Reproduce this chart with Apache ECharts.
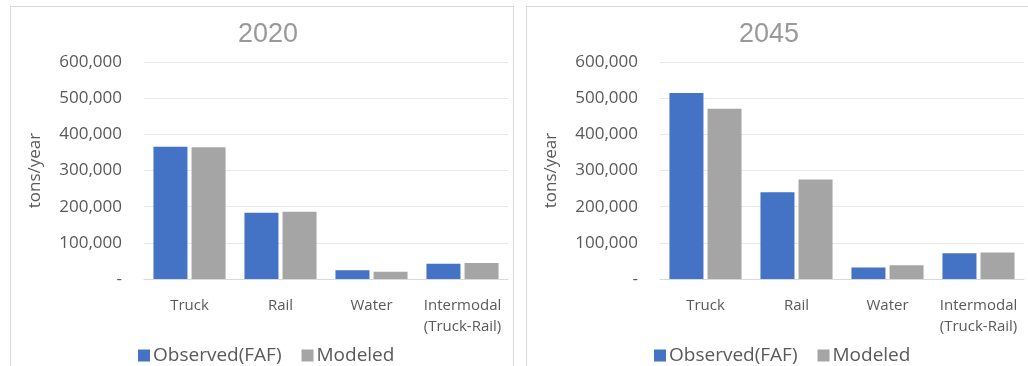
<!DOCTYPE html>
<html>
<head>
<meta charset="utf-8">
<script src="https://cdn.jsdelivr.net/npm/echarts@6/dist/echarts.min.js"></script>
<style>
body{margin:0;background:#fff;width:1028px;height:366px;overflow:hidden;position:relative;}
.panel{position:absolute;top:6px;height:370px;border:1px solid #d9d9d9;box-sizing:border-box;}
#left{left:10px;width:504px;}
#right{left:526px;width:512px;}
</style>
</head>
<body>
<div class="panel" id="left"></div>
<div class="panel" id="right"></div>
<script>
var categories = ['Truck', 'Rail', 'Water', 'Intermodal\n(Truck-Rail)'];
var seriesNames = ['Observed(FAF)', 'Modeled'];
var observed2020 = [366000, 183000, 24000, 42000];
var modeled2020 = [364000, 186000, 20000, 44000];
var observed2045 = [514000, 240000, 32000, 71000];
var modeled2045 = [471000, 275000, 38000, 73000];
var yTicks = [0, 100000, 200000, 300000, 400000, 500000, 600000];

function fmt(v){
	if(v==0) return '-';
	return v.toString().replace(/\B(?=(\d{3})+(?!\d))/g, ',');
}

function draw(id, title, titleX, obs, mod){
	var myChart = echarts.init(document.getElementById(id));
	var option = {
		animation:false,
		title:{
			text:title,
			left:titleX,
			top:9,
			textAlign:'center',
			textStyle:{color:'#999',fontSize:27,fontWeight:'normal',fontFamily:'Liberation Sans'}
		},
		legend:{
			data:seriesNames,
			left:122,
			top:334,
			icon:'rect',
			itemWidth:12,
			itemHeight:12,
			itemGap:20,
			textStyle:{color:'#595959',fontSize:19,fontFamily:'Open Sans',padding:[0,0,0,-2]}
		},
		color:['#4472C4','#A5A5A5'],
		grid:{left:133,top:55,width:364,height:217},
		xAxis:{
			type:'category',
			data:categories,
			axisLine:{lineStyle:{color:'#d9d9d9'}},
			axisTick:{show:false},
			axisLabel:{color:'#595959',fontSize:15,fontFamily:'Open Sans',margin:16,lineHeight:21,interval:0}
		},
		yAxis:{
			type:'value',
			min:yTicks[0],
			max:yTicks[yTicks.length-1],
			interval:100000,
			name:'tons/year',
			nameLocation:'middle',
			nameGap:100,
			nameTextStyle:{color:'#595959',fontSize:17,fontFamily:'Open Sans'},
			axisLine:{show:false},
			axisTick:{show:false},
			splitLine:{lineStyle:{color:'#e8e8e8'}},
			axisLabel:{color:'#595959',fontSize:17,fontFamily:'Open Sans',margin:22,formatter:fmt}
		},
		series:[
			{name:seriesNames[0],type:'bar',data:obs,barWidth:34,barGap:'12%'},
			{name:seriesNames[1],type:'bar',data:mod,barWidth:34,barGap:'12%'}
		]
	};
	myChart.setOption(option);
}

draw('left','2020',252,observed2020,modeled2020);
draw('right','2045',237,observed2045,modeled2045);
</script>
</body>
</html>
